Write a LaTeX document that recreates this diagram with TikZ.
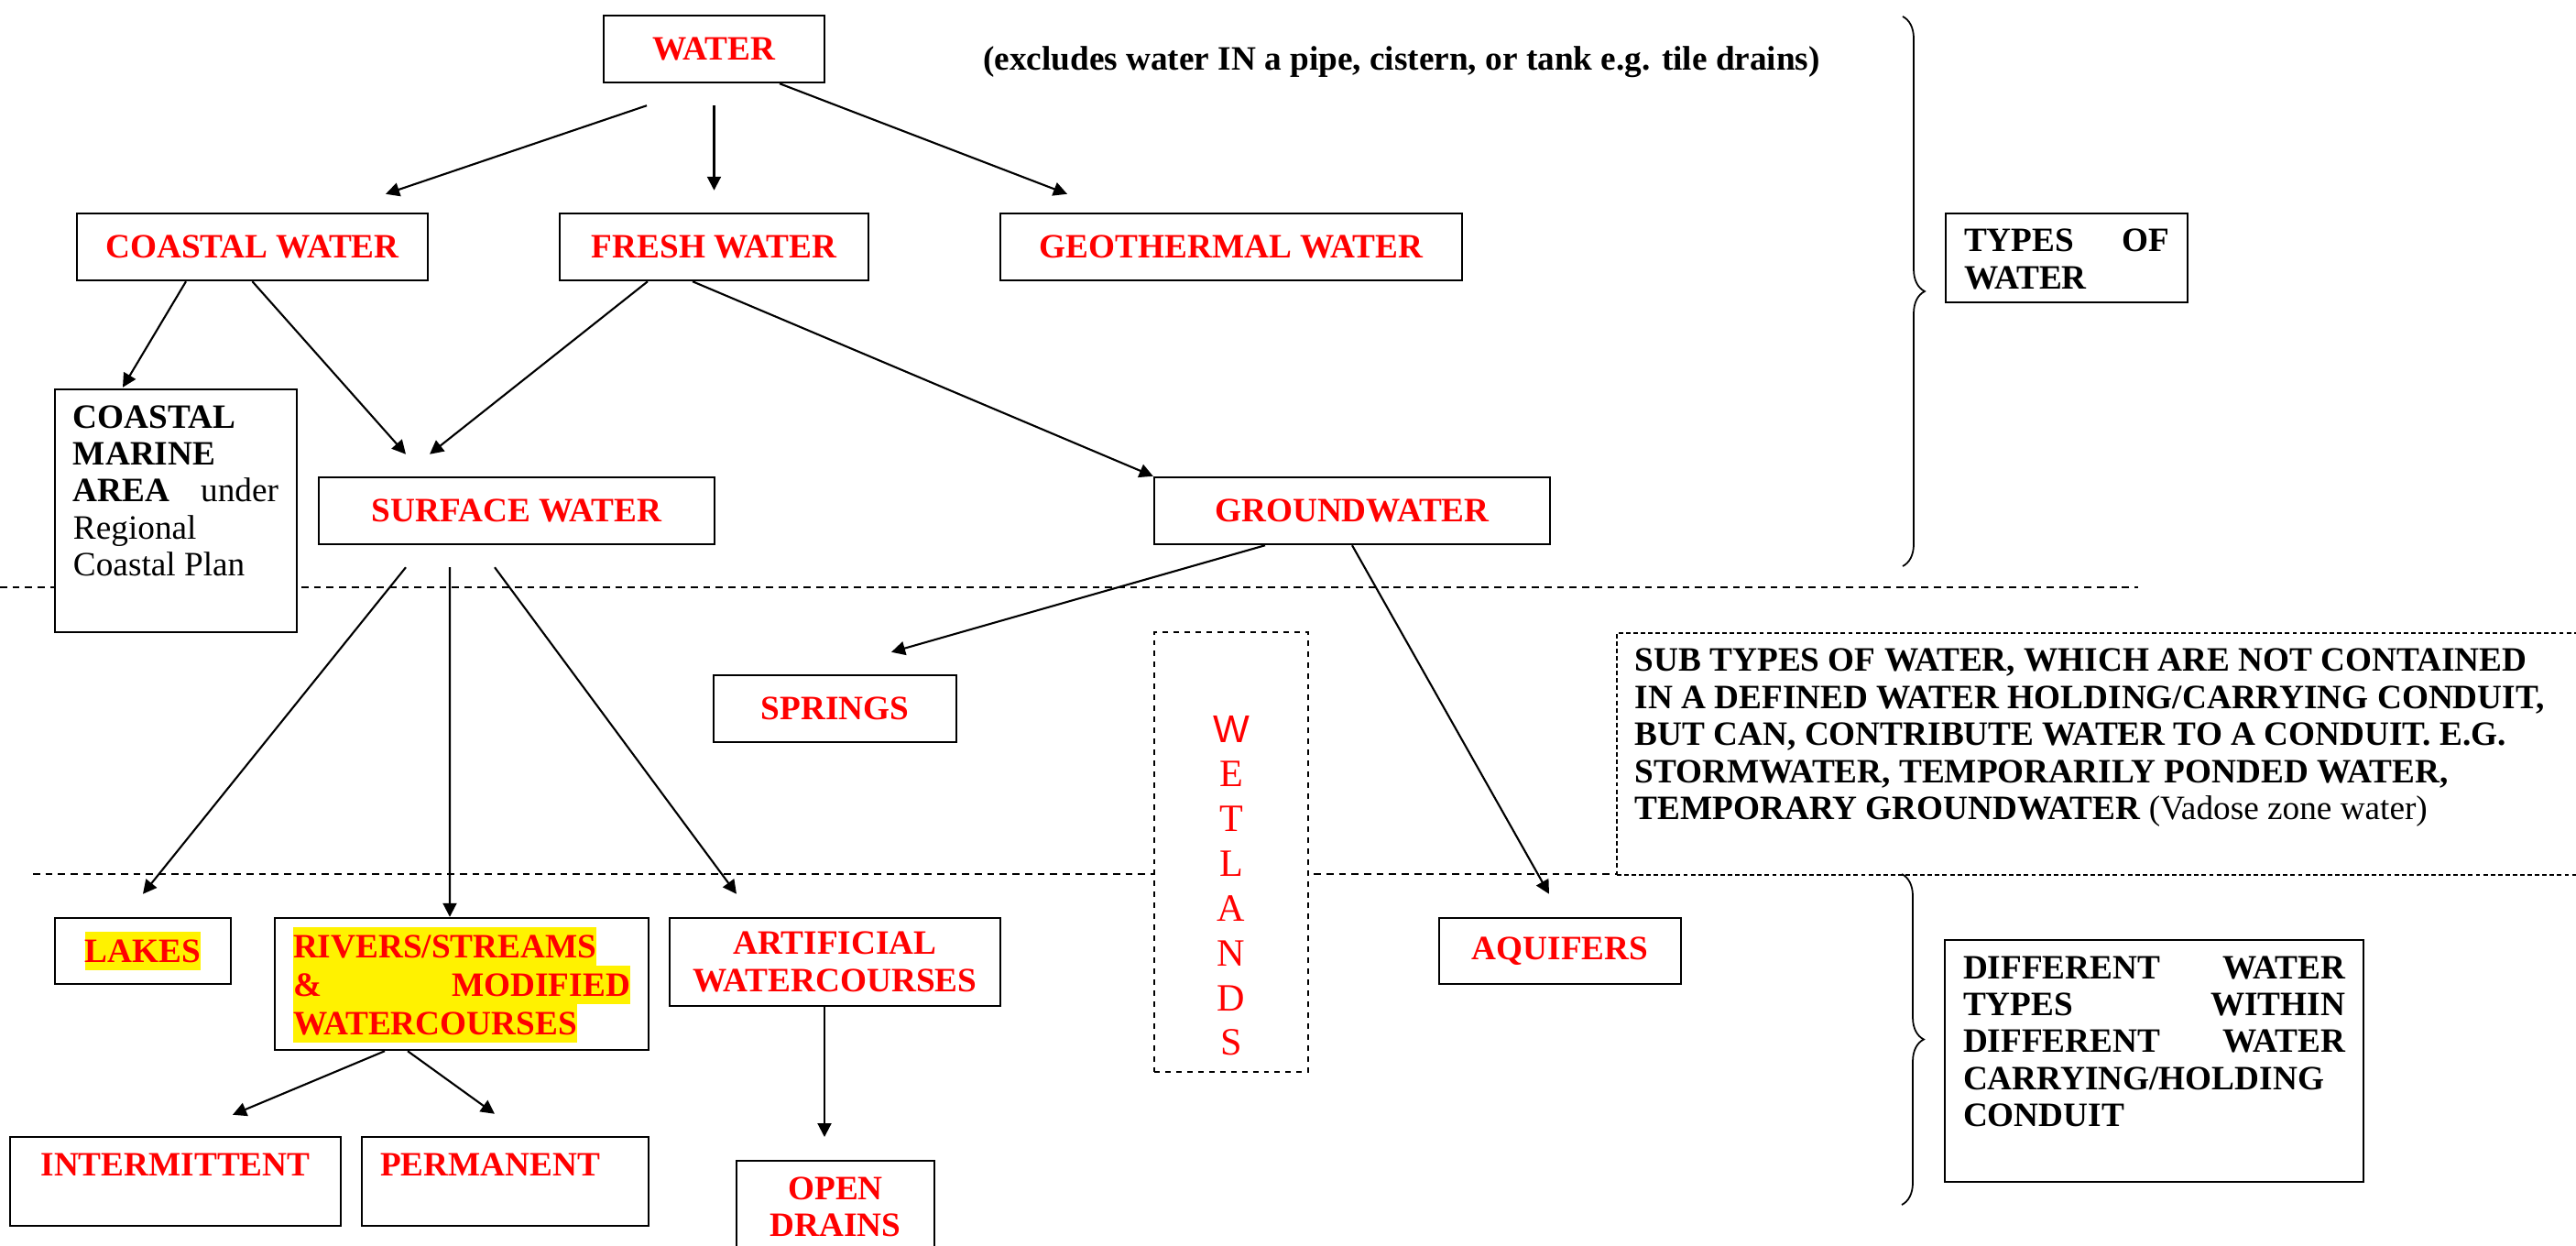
\documentclass[tikz,border=0pt]{standalone}
\usepackage{fontspec}
\setmainfont{Liberation Serif}
\newfontfamily\wsans{Liberation Sans}
\usetikzlibrary{arrows.meta,calc,decorations.pathreplacing}
\newcommand\mainsize{\fontsize{10.6}{11.5}\selectfont}
\newcommand\topbox[3]{\parbox[c][#2][t]{#1}{\rule{0pt}{0.42cm}#3}}
\newcommand\hlt[1]{{\setlength{\fboxsep}{0pt}\colorbox{yellow}{\rule[-0.09cm]{0pt}{0.42cm}#1}}}

\begin{document}
\begin{tikzpicture}[
	box/.style={draw, line width=0.7pt, fill=white, inner xsep=0.2cm, inner ysep=0pt, font=\mainsize\bfseries},
	kind/.style={box, text=red, minimum height=0.73cm},
	dashbox/.style={box, dash pattern=on 1.7pt off 1.7pt},
	sep/.style={line width=0.65pt, dash pattern=on 2.2pt off 1.7pt},
	arr/.style={-{Triangle[length=1.5mm,width=1.5mm]}, line width=0.6pt},
	brace/.style={decorate, decoration={brace, amplitude=0.24cm}, line width=0.5pt}
]
			%%%%% START %%%%%
			\useasboundingbox (0,0) rectangle (28.12,-13.60);
			
			\draw[sep] (0,-6.41) -- (23.34,-6.41);
			\draw[sep] (0.36,-9.54) -- (28.12,-9.54);
			
			% types of water
			\node[kind, minimum width=2.41cm] (water) at (7.795,-0.535) {WATER};
			\node[font=\mainsize\bfseries] (excl) at (15.30,-0.68) {(excludes water IN a pipe, cistern, or tank e.g. tile drains)};
			\node[kind, minimum width=3.83cm] (coastal) at (2.755,-2.695) {COASTAL WATER};
			\node[kind, minimum width=3.37cm] (fresh) at (7.795,-2.695) {FRESH WATER};
			\node[kind, minimum width=5.04cm] (geo) at (13.44,-2.695) {GEOTHERMAL WATER};
			\node[box] (marine) at (1.92,-5.575) {\topbox{2.24cm}{2.65cm}{COASTAL\\MARINE\\AREA\hfill{\mdseries under}\\{\mdseries Regional\\Coastal Plan}}};
			\node[kind, minimum width=4.32cm] (surface) at (5.64,-5.575) {SURFACE WATER};
			\node[kind, minimum width=4.32cm] (ground) at (14.76,-5.575) {GROUNDWATER};
			
			% sub types
			\node[kind, minimum width=2.65cm] (springs) at (9.115,-7.735) {SPRINGS};
			\node[dashbox, text=red, font=\fontsize{12}{13.9}\selectfont] (wetlands) at (13.44,-9.30) {\parbox[c][4.80cm][t]{1.28cm}{\centering\rule{0pt}{1.20cm}{\wsans W}\\E\\T\\L\\A\\N\\D\\S}};
			\node[dashbox, line width=0.45pt, dash pattern=on 1.4pt off 0.9pt, anchor=north west] (subtypes) at (17.64,-6.90) {\topbox{10.4cm}{2.64cm}{SUB TYPES OF WATER, WHICH ARE NOT CONTAINED\\IN A DEFINED WATER HOLDING/CARRYING CONDUIT,\\BUT CAN, CONTRIBUTE WATER TO A CONDUIT. E.G.\\STORMWATER, TEMPORARILY PONDED WATER,\\TEMPORARY GROUNDWATER {\mdseries (Vadose zone water)}}};
			
			% conduits
			\node[kind, minimum width=1.92cm, minimum height=0.72cm] (lakes) at (1.56,-10.38) {\hlt{LAKES}};
			\node[box, text=red] (rivers) at (5.04,-10.74) {\parbox[c][1.44cm][t]{3.68cm}{\setlength{\baselineskip}{0.42cm}\setlength{\lineskip}{0pt}\vspace*{0.1cm}\hlt{RIVERS/STREAMS}\\\hlt{\makebox[3.68cm][s]{\& MODIFIED}}\\\hlt{WATERCOURSES}}};
			\node[kind, minimum width=3.61cm, minimum height=0.96cm, align=center] (artificial) at (9.115,-10.50) {ARTIFICIAL\\WATERCOURSES};
			\node[kind, minimum width=2.64cm, minimum height=0.72cm] (aquifers) at (17.03,-10.38) {AQUIFERS};
			\node[box, text=red] (intermittent) at (1.915,-12.895) {\topbox{3.21cm}{0.97cm}{\centering INTERMITTENT}};
			\node[box, text=red] (permanent) at (5.515,-12.895) {\topbox{2.73cm}{0.97cm}{PERMANENT}};
			\node[box, text=red, anchor=north] (drains) at (9.12,-12.66) {\topbox{1.76cm}{1.30cm}{\centering OPEN\\DRAINS}};
			
			% side notes
			\node[box] (kinds) at (22.56,-2.815) {\topbox{2.24cm}{0.97cm}{TYPES\hfill OF\\WATER}};
			\node[box] (within) at (23.515,-11.58) {\topbox{4.17cm}{2.64cm}{DIFFERENT\hfill WATER\\TYPES\hfill WITHIN\\DIFFERENT\hfill WATER\\CARRYING/HOLDING\\CONDUIT}};
			\draw[brace] (20.77,-0.18) -- (20.77,-6.18);
			\draw[brace] (20.76,-9.54) -- (20.76,-13.15);
			
			% arrows
			\draw[arr] ($(water.south)+(-0.735,-0.24)$) -- ($(coastal.north)+(1.455,0.20)$);
			\draw[arr] ($(water.south)+(0,-0.24)$) -- ($(fresh.north)+(0,0.24)$);
			\draw[arr] ($(water.south)+(0.715,0)$) -- ($(geo.north)+(-1.79,0.20)$);
			\draw[arr] ($(coastal.south)+(-0.725,0)$) -- ($(marine.north)+(-0.58,0.01)$);
			\draw[arr] (coastal.south) -- ($(surface.north)+(-1.21,0.24)$);
			\draw[arr] ($(fresh.south)+(-0.725,0)$) -- ($(surface.north)+(-0.95,0.24)$);
			\draw[arr] ($(fresh.south)+(-0.235,0)$) -- (ground.north west);
			\draw[arr] ($(surface.south)+(-1.21,-0.24)$) -- ($(lakes.north)+(0,0.25)$);
			\draw[arr] ($(surface.south)+(-0.73,-0.24)$) -- ($(rivers.north)+(-0.13,0)$);
			\draw[arr] ($(surface.south)+(-0.24,-0.24)$) -- ($(artificial.north)+(-1.075,0.25)$);
			\draw[arr] ($(ground.south)+(-0.95,0)$) -- ($(springs.north)+(0.615,0.24)$);
			\draw[arr] (ground.south) -- ($(aquifers.north)+(-0.12,0.25)$);
			\draw[arr] ($(rivers.south)+(-0.84,0)$) -- ($(intermittent.north)+(0.625,0.23)$);
			\draw[arr] ($(rivers.south)+(-0.59,0)$) -- ($(permanent.north)+(-0.115,0.24)$);
			\draw[arr] ($(artificial.south)+(-0.115,0)$) -- ($(drains.north)+(-0.12,0.25)$);
			%%%%% END %%%%%
\end{tikzpicture}
\end{document}
